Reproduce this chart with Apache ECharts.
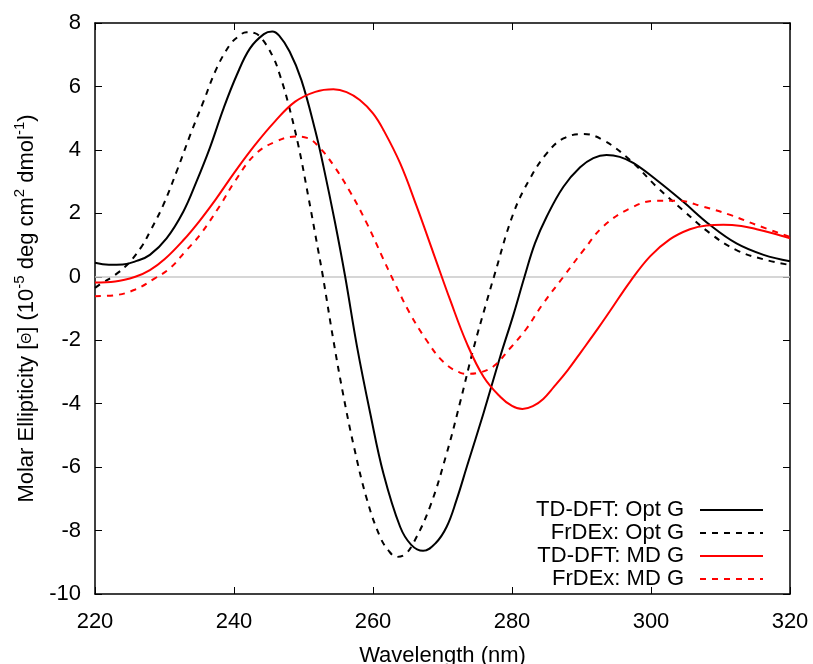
<!DOCTYPE html>
<html>
<head>
<meta charset="utf-8">
<script src="https://cdn.jsdelivr.net/npm/echarts@6/dist/echarts.min.js"></script>
<style>
  html, body { margin: 0; padding: 0; background: #fff; }
  #chart { width: 813px; height: 664px; }
</style>
</head>
<body>
<div id="chart"></div>
<script>
// ---- data ----
const xTicks = [220, 240, 260, 280, 300, 320];
const yTicks = [-10, -8, -6, -4, -2, 0, 2, 4, 6, 8];

const tdOptX = [220, 222, 224, 226, 227.9, 230.3, 232.7, 234.6, 236.5, 238.5, 240.4, 242.3, 244.3, 245.5, 246.5, 248, 249.7, 251.7, 252.9, 254.5, 256, 257.7, 259.6, 261.5, 263.9, 265.5, 267.2, 269, 270.6, 272, 273.5, 275.9, 278.3, 280.2, 281.8, 283.3, 285, 287.4, 289.8, 291.7, 293.6, 295.5, 297.5, 300.8, 304.6, 308.5, 312.3, 316.2, 320];
const tdOptY = [0.44, 0.38, 0.39, 0.5, 0.69, 1.21, 2.05, 3.0, 4.05, 5.31, 6.36, 7.2, 7.65, 7.73, 7.6, 7.1, 6.2, 4.6, 3.45, 1.75, 0, -2.2, -4.3, -6.2, -7.88, -8.45, -8.64, -8.4, -7.88, -7.05, -5.99, -4.3, -2.52, -1.2, 0, 1.05, 1.9, 2.84, 3.45, 3.74, 3.84, 3.78, 3.58, 3.05, 2.37, 1.63, 1.05, 0.69, 0.49];

const frOptX = [220, 221, 222.9, 224.8, 226.7, 227.9, 229.8, 231.8, 233.7, 235.6, 237.5, 239.4, 240.5, 241.8, 243, 244.2, 245.7, 246.6, 247.8, 249.3, 250.7, 252.1, 252.8, 254.3, 255.7, 257.2, 259.1, 261, 262.3, 263.4, 264.6, 265.8, 268.2, 270.6, 272.5, 274.4, 276.4, 277.4, 280.2, 282.6, 285, 287.4, 290.3, 293.1, 297, 300.8, 304.6, 308.5, 312.3, 316.2, 320];
const frOptY = [-0.35, -0.2, 0.06, 0.42, 0.95, 1.42, 2.25, 3.35, 4.47, 5.52, 6.57, 7.31, 7.55, 7.71, 7.68, 7.45, 6.89, 6.36, 5.47, 4.1, 2.52, 0.85, 0, -2.0, -3.7, -5.3, -7.0, -8.19, -8.65, -8.83, -8.75, -8.4, -7.25, -5.57, -3.99, -2.31, -0.75, 0, 2.0, 3.1, 3.89, 4.36, 4.5, 4.31, 3.68, 2.84, 2.1, 1.37, 0.84, 0.55, 0.37];

const tdMdX = [220, 222.9, 225.8, 227.9, 230, 232.7, 235, 237.4, 240.1, 243, 245.9, 248.8, 251.7, 254.3, 256.2, 258.1, 260, 261.5, 263.9, 266.3, 268.7, 271.1, 273.5, 275.9, 278.3, 280, 281.5, 283, 284.5, 286, 288, 290, 292.4, 294.1, 297, 299.9, 302.7, 305.6, 308, 310.4, 313, 315.2, 317.5, 320];
const tdMdY = [-0.18, -0.15, 0.0, 0.21, 0.55, 1.15, 1.75, 2.45, 3.3, 4.15, 4.9, 5.52, 5.83, 5.91, 5.82, 5.57, 5.15, 4.63, 3.58, 2.21, 0.74, -0.73, -2.1, -3.15, -3.78, -4.07, -4.17, -4.08, -3.85, -3.48, -2.95, -2.35, -1.62, -1.08, -0.15, 0.65, 1.18, 1.5, 1.62, 1.64, 1.6, 1.5, 1.37, 1.21];

const frMdX = [220, 222.9, 225.8, 228.6, 230.8, 233, 235.1, 238, 240.1, 243, 245.9, 248.8, 250.5, 252.4, 254.3, 256.7, 259.1, 261.5, 262.9, 265.3, 267.7, 270.1, 272.5, 273.8, 274.9, 277.3, 279.7, 282.1, 284.3, 287.4, 290.3, 293.1, 297, 300.8, 303.7, 307.5, 311.4, 315.2, 320];
const frMdY = [-0.61, -0.58, -0.4, -0.05, 0.27, 0.8, 1.32, 2.25, 3.0, 3.85, 4.25, 4.42, 4.38, 4.05, 3.52, 2.68, 1.69, 0.55, -0.1, -1.15, -2.0, -2.68, -3.02, -3.06, -3.04, -2.83, -2.26, -1.63, -0.9, 0, 0.84, 1.58, 2.16, 2.4, 2.4, 2.21, 1.95, 1.63, 1.26];

const seriesNames = ['TD-DFT: Opt G', 'FrDEx: Opt G', 'TD-DFT: MD G', 'FrDEx: MD G'];
const zeroLevel = 0;

// ---- chart ----
const FONT = '"Liberation Sans", Arial, Helvetica, sans-serif';
const pair = (xs, ys) => xs.map((x, i) => [x, ys[i]]);
const chart = echarts.init(document.getElementById('chart'), null, { renderer: 'canvas' });

const axisLineStyle = { color: '#000', width: 1.5 };
const tickStyle = { show: true, inside: true, length: 7, lineStyle: { color: '#000', width: 1 } };

function lineSeries(name, xs, ys, color, dashed) {
  return {
    name: name,
    type: 'line',
    data: pair(xs, ys),
    xAxisIndex: 0, yAxisIndex: 0,
    showSymbol: false,
    symbol: 'none',
    smooth: 0.4,
    lineStyle: { color: color, width: 2, type: dashed ? [6, 6] : 'solid', cap: 'butt' },
    itemStyle: { color: color },
    z: 3
  };
}

const option = {
  animation: false,
  backgroundColor: '#fff',
  textStyle: { fontFamily: FONT, color: '#000' },
  grid: { left: 95, right: 23, top: 23, bottom: 70, containLabel: false, outerBoundsMode: 'none' },
  legend: {
    orient: 'vertical',
    align: 'right',
    right: 44,
    top: 494,
    itemWidth: 63,
    itemHeight: 1,
    itemGap: 1,
    selectedMode: false,
    itemStyle: { opacity: 0 },
    textStyle: { fontFamily: FONT, fontSize: 22, color: '#000', lineHeight: 22, padding: [0, 11, 0, 0] },
    data: seriesNames
  },
  xAxis: [
    {
      type: 'value', position: 'bottom',
      min: xTicks[0], max: xTicks[xTicks.length - 1], interval: xTicks[1] - xTicks[0],
      axisLine: { show: true, lineStyle: axisLineStyle, onZero: false },
      axisTick: tickStyle,
      splitLine: { show: false },
      axisLabel: { fontFamily: FONT, fontSize: 22, color: '#000', margin: 17 },
      name: 'Wavelength (nm)', nameLocation: 'middle', nameGap: 51,
      nameTextStyle: { fontFamily: FONT, fontSize: 22, color: '#000' }
    },
    {
      type: 'value', position: 'top',
      min: xTicks[0], max: xTicks[xTicks.length - 1], interval: xTicks[1] - xTicks[0],
      axisLine: { show: true, lineStyle: axisLineStyle, onZero: false },
      axisTick: tickStyle,
      splitLine: { show: false },
      axisLabel: { show: false }
    }
  ],
  yAxis: [
    {
      type: 'value', position: 'left',
      min: yTicks[0], max: yTicks[yTicks.length - 1], interval: yTicks[1] - yTicks[0],
      axisLine: { show: true, lineStyle: axisLineStyle, onZero: false },
      axisTick: tickStyle,
      splitLine: { show: false },
      axisLabel: { fontFamily: FONT, fontSize: 22, color: '#000', margin: 14 },
      name: '{n|Molar Ellipticity [}{t|Θ}{n|] (10}{s|-5}{n| deg cm}{s|2}{n| dmol}{s|-1}{n|)}',
      nameLocation: 'middle', nameRotate: 90, nameGap: 44,
      nameTextStyle: {
        fontFamily: FONT, fontSize: 22, color: '#000',
        rich: {
          n: { fontFamily: FONT, fontSize: 22, lineHeight: 30, color: '#000' },
          t: { fontFamily: FONT, fontSize: 14, lineHeight: 30, color: '#000' },
          s: { fontFamily: FONT, fontSize: 15, lineHeight: 15, verticalAlign: 'top', color: '#000' }
        }
      }
    },
    {
      type: 'value', position: 'right',
      min: yTicks[0], max: yTicks[yTicks.length - 1], interval: yTicks[1] - yTicks[0],
      axisLine: { show: true, lineStyle: axisLineStyle, onZero: false },
      axisTick: tickStyle,
      splitLine: { show: false },
      axisLabel: { show: false }
    }
  ],
  series: [
    {
      type: 'line', data: [], xAxisIndex: 0, yAxisIndex: 0, silent: true, z: 1,
      markLine: {
        silent: true, z: 1, symbol: ['none', 'none'],
        label: { show: false },
        lineStyle: { color: '#c8c8c8', type: 'solid', width: 1.5 },
        data: [{ yAxis: zeroLevel }]
      }
    },
    lineSeries(seriesNames[0], tdOptX, tdOptY, '#000000', false),
    lineSeries(seriesNames[1], frOptX, frOptY, '#000000', true),
    lineSeries(seriesNames[2], tdMdX, tdMdY, '#ff0000', false),
    lineSeries(seriesNames[3], frMdX, frMdY, '#ff0000', true)
  ]
};
chart.setOption(option);
</script>
</body>
</html>
